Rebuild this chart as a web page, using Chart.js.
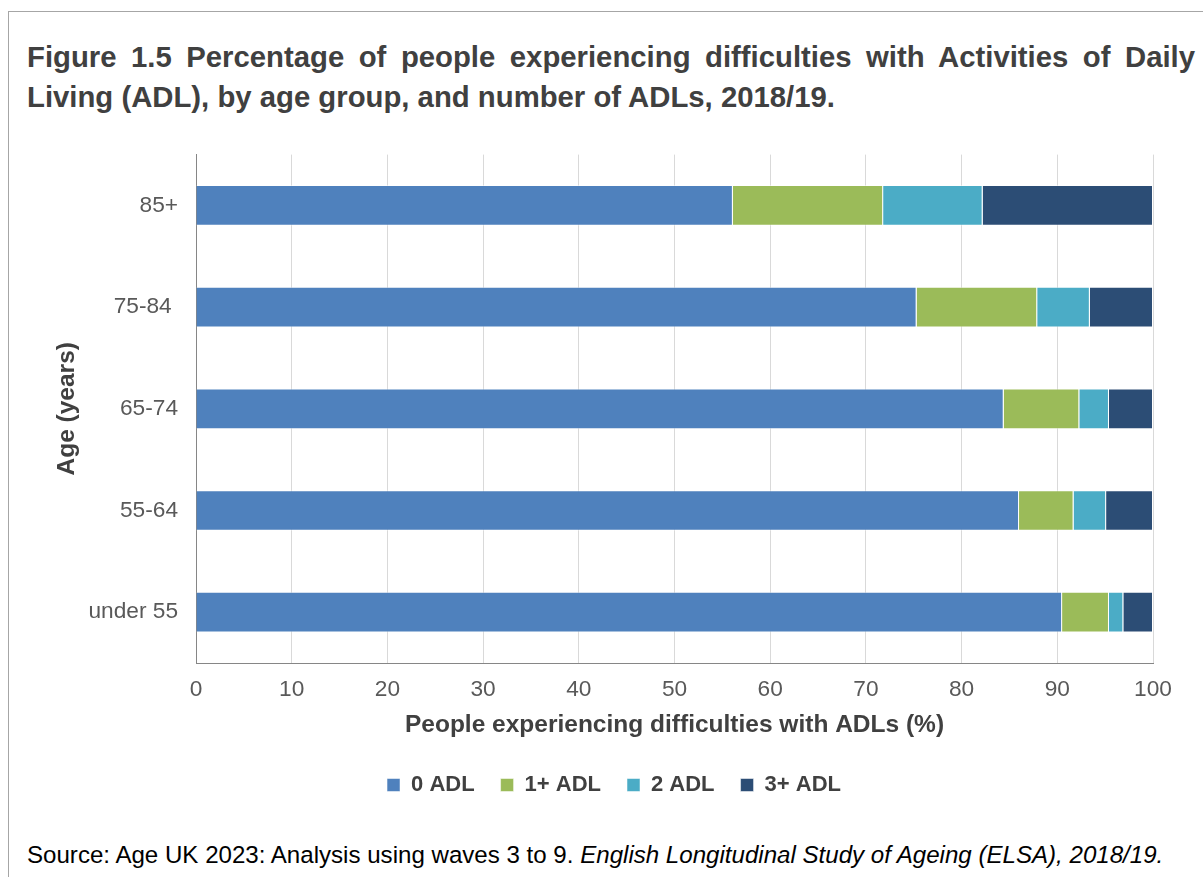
<!DOCTYPE html>
<html>
<head>
<meta charset="utf-8">
<script src="https://cdn.jsdelivr.net/npm/chart.js@4/dist/chart.umd.min.js"></script>
<style>
	body { margin: 0; background: #fff; font-family: "Liberation Sans", Arial, sans-serif; }
	#frame { position: absolute; left: 8px; top: 11px; width: 1260px; height: 900px; border: 1px solid #a6a6a6; }
	#title { position: absolute; left: 27px; top: 37px; width: 1168px; margin: 0; font-size: 29.3px; line-height: 40px; font-weight: bold; color: #404040; }
	#title span { display: block; }
	#title .full { text-align: justify; text-align-last: justify; }
	#chartBox { position: absolute; left: 20px; top: 123px; width: 1170px; height: 683px; }
	#source { position: absolute; left: 27px; top: 841px; font-size: 24.1px; color: #000; white-space: nowrap; }
</style>
</head>
<body>
<div id="frame"></div>
<h1 id="title"><span class="full">Figure 1.5 Percentage of people experiencing difficulties with Activities of Daily</span><span>Living (ADL), by age group, and number of ADLs, 2018/19.</span></h1>
<div id="chartBox"><canvas id="myChart"></canvas></div>
<div id="source">Source: Age UK 2023: Analysis using waves 3 to 9. <i>English Longitudinal Study of Ageing (ELSA), 2018/19.</i></div>
<script>
	// Возрастные группы (сверху вниз)
	const ageGroups = ['85+', '75-84 ', '65-74', '55-64', 'under 55'];
	// Доли людей по числу ADL, %
	const adl0 = [56.1, 75.3, 84.4, 86.0, 90.5];
	const adl1 = [15.7, 12.6, 7.9, 5.7, 4.9];
	const adl2 = [10.4, 5.5, 3.1, 3.4, 1.5];
	const adl3 = [17.8, 6.6, 4.6, 4.9, 3.1];
	const seriesNames = ['0 ADL', '1+ ADL', '2 ADL', '3+ ADL'];
	const seriesColors = ['#4f81bd', '#9bbb59', '#4bacc6', '#2c4d75'];

	const textColor = '#595959';
	const font = 'Liberation Sans, Arial, sans-serif';

	const ctx = document.getElementById('myChart').getContext('2d');
	const myChart = new Chart(ctx, {
		type: 'bar',
		data: {
			labels: ageGroups,
			datasets: [adl0, adl1, adl2, adl3].map((values, i) => ({
				label: seriesNames[i],
				data: values,
				backgroundColor: seriesColors[i],
				borderColor: 'rgba(255, 255, 255, 0.5)',
				borderWidth: 1,
				categoryPercentage: 1,
				barPercentage: 0.4
			}))
		},
		options: {
			indexAxis: 'y',
			responsive: true,
			maintainAspectRatio: false,
			animation: false,
			layout: {
				// левый отступ сдвигает центр легенды вправо
				padding: { left: 55, right: 37, top: 0, bottom: 0 }
			},
			plugins: {
				tooltip: { enabled: false },
				legend: {
					position: 'bottom',
					labels: {
						boxWidth: 13,
						boxHeight: 13,
						padding: 26,
						color: '#404040',
						font: { family: font, size: 22, weight: 'bold' }
					}
				}
			},
			scales: {
				x: {
					stacked: true,
					min: 0,
					max: 100,
					ticks: {
						stepSize: 10,
						padding: 13,
						color: textColor,
						font: { family: font, size: 22.7 }
					},
					grid: { color: '#d9d9d9', drawTicks: false },
					border: { color: '#868686', width: 1 },
					title: {
						display: true,
						text: 'People experiencing difficulties with ADLs (%)',
						color: '#404040',
						font: { family: font, size: 24.5, weight: 'bold' },
						padding: { top: 0, bottom: 8 }
					},
					afterFit: function (scale) { scale.height = 85; }
				},
				y: {
					stacked: true,
					ticks: {
						padding: 18,
						color: textColor,
						font: { family: font, size: 22.7 }
					},
					grid: { display: false, drawTicks: false },
					border: { color: '#868686', width: 1 },
					title: {
						display: true,
						text: 'Age (years)',
						color: '#404040',
						font: { family: font, size: 24.5, weight: 'bold' },
						padding: { top: -22, bottom: 0 }
					},
					afterFit: function (scale) { scale.width = 121; }
				}
			}
		}
	});
</script>
</body>
</html>
